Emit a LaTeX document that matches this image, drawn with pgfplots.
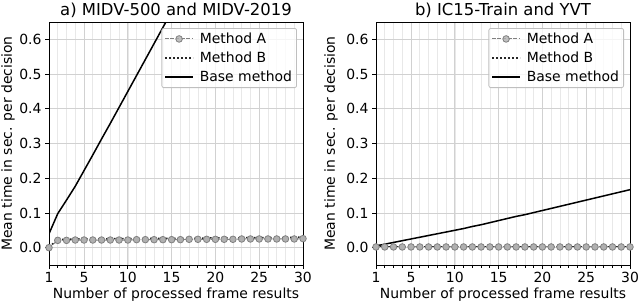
\documentclass[border=0pt]{standalone}
\usepackage{fontspec}
\setmainfont{DejaVu Sans}
\usepackage{pgfplots}
\pgfplotsset{compat=1.18}
\definecolor{mkfill}{HTML}{B0B0B0}
\definecolor{mkedge}{HTML}{808080}
\pgfplotsset{
 mystyle/.style={
  scale only axis, width=254bp, height=243bp,
  xmin=1, xmax=30, ymin=-0.05, ymax=0.65,
  xtick={1,5,10,15,20,25,30},
  minor xtick={1,2,...,30},
  ytick={0,0.1,0.2,0.3,0.4,0.5,0.6},
  yticklabel style={/pgf/number format/.cd, fixed, fixed zerofill, precision=1},
  /pgf/number format/assume math mode=true,
  grid=both,
  major grid style={black!18, line width=0.8bp},
  minor grid style={black!9, line width=0.6bp},
  axis line style={black, line width=0.8bp},
  tick style={black, line width=0.8bp},
  tick align=outside, tick pos=left,
  major tick length=4bp, minor tick length=2.5bp,
  ticklabel style={font=\fontsize{14}{16}\selectfont},
  label style={font=\fontsize{14}{16}\selectfont},
  every axis title shift=0pt,
  title style={font=\fontsize{16.5}{18}\selectfont, at={(axis description cs:0.5,1)}, anchor=center, yshift=12bp},
  xlabel style={at={(axis description cs:0.5,0)}, anchor=center, yshift=-30bp},
  xlabel={Number of processed frame results},
  ylabel={Mean time in sec. per decision},
  legend style={font=\fontsize{14}{16}\selectfont, draw=black!25, line width=0.8bp, rounded corners=2pt, fill=white, fill opacity=0.8, text opacity=1, at={(1,1)}, anchor=north east, xshift=-6bp, yshift=-6bp, row sep=3bp, inner sep=2.5bp, /tikz/every odd column/.append style={column sep=4bp}},
  legend cell align=left,
  legend image code/.code={\draw[mark repeat=2,mark phase=2,##1] plot coordinates {(0bp,0bp) (14bp,0bp) (28bp,0bp)};},
  clip=true,
 },
 mA/.style={color=mkedge, dash pattern=on 3.7bp off 1.6bp, line width=1bp, mark=*, mark size=3.3bp, mark options={solid, fill=mkfill, draw=mkedge, line width=0.8bp}},
 mB/.style={color=black!85, dash pattern=on 1.5bp off 2.5bp, line width=1.5bp, mark=none},
 mBase/.style={color=black, solid, line width=1.5bp, mark=none},
}
\begin{document}
\begin{tikzpicture}
\useasboundingbox (0,0) rectangle (640bp,304bp);
\begin{axis}[mystyle, at={(49bp,39bp)}, anchor=south west,
  title={a) MIDV-500 and MIDV-2019},
  ylabel style={at={(axis description cs:-0.161,0.5)}, anchor=center}]
\addplot[mA] coordinates {(1,0.000) (2,0.021) (3,0.021) (4,0.022) (5,0.022) (6,0.022) (7,0.022) (8,0.022) (9,0.022) (10,0.022) (11,0.023) (12,0.023) (13,0.023) (14,0.023) (15,0.023) (16,0.023) (17,0.024) (18,0.024) (19,0.024) (20,0.024) (21,0.024) (22,0.024) (23,0.025) (24,0.025) (25,0.025) (26,0.025) (27,0.025) (28,0.025) (29,0.025) (30,0.026)};
\addlegendentry{Method A}
\addplot[mB] coordinates {(1,0.002) (2,0.024) (3,0.024) (4,0.025) (5,0.025) (6,0.025) (7,0.025) (8,0.026) (9,0.026) (10,0.026) (11,0.026) (12,0.026) (13,0.027) (14,0.027) (15,0.027) (16,0.027) (17,0.027) (18,0.027) (19,0.028) (20,0.028) (21,0.028) (22,0.028) (23,0.028) (24,0.029) (25,0.029) (26,0.029) (27,0.029) (28,0.029) (29,0.030) (30,0.030)};
\addlegendentry{Method B}
\addplot[mBase] coordinates {(1,0.040) (2,0.098) (3,0.137) (4,0.177) (5,0.222) (6,0.267) (7,0.313) (8,0.358) (9,0.404) (10,0.450) (11,0.496) (12,0.542) (13,0.588) (14,0.634) (15,0.680) (16,0.726)};
\addlegendentry{Base method}
\end{axis}
\begin{axis}[mystyle, at={(376bp,39bp)}, anchor=south west,
  title={b) IC15-Train and YVT},
  ylabel style={at={(axis description cs:-0.177,0.5)}, anchor=center}]
\addplot[mA] coordinates {(1,0.002) (2,0.002) (3,0.002) (4,0.002) (5,0.002) (6,0.002) (7,0.002) (8,0.002) (9,0.002) (10,0.002) (11,0.002) (12,0.002) (13,0.002) (14,0.002) (15,0.002) (16,0.002) (17,0.002) (18,0.002) (19,0.002) (20,0.002) (21,0.002) (22,0.002) (23,0.002) (24,0.002) (25,0.002) (26,0.002) (27,0.002) (28,0.002) (29,0.002) (30,0.002)};
\addlegendentry{Method A}
\addplot[mB] coordinates {(1,0.003) (2,0.003) (3,0.003) (4,0.003) (5,0.003) (6,0.003) (7,0.003) (8,0.003) (9,0.003) (10,0.003) (11,0.003) (12,0.003) (13,0.003) (14,0.003) (15,0.003) (16,0.003) (17,0.003) (18,0.003) (19,0.003) (20,0.003) (21,0.003) (22,0.003) (23,0.003) (24,0.003) (25,0.003) (26,0.003) (27,0.003) (28,0.003) (29,0.003) (30,0.003)};
\addlegendentry{Method B}
\addplot[mBase] coordinates {(1,0.005) (2,0.010) (3,0.015) (4,0.020) (5,0.025) (6,0.030) (7,0.035) (8,0.040) (9,0.045) (10,0.050) (11,0.055) (12,0.061) (13,0.066) (14,0.072) (15,0.078) (16,0.084) (17,0.090) (18,0.095) (19,0.101) (20,0.107) (21,0.113) (22,0.119) (23,0.125) (24,0.131) (25,0.137) (26,0.143) (27,0.149) (28,0.155) (29,0.161) (30,0.167)};
\addlegendentry{Base method}
\end{axis}
\end{tikzpicture}
\end{document}
